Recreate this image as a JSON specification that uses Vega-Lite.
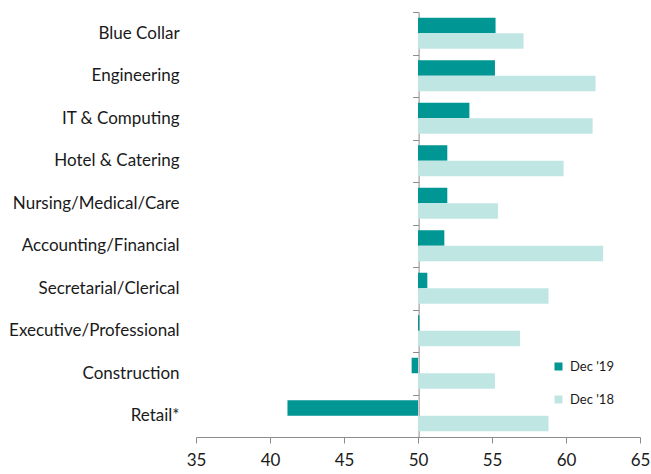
{
  "$schema": "https://vega.github.io/schema/vega-lite/v6.json",
  "autosize": "none",
  "width": 444,
  "height": 425,
  "padding": {"left": 196, "top": 12, "right": 11, "bottom": 37},
  "config": {"view": {"stroke": null}, "font": "Lato"},
  "data": {"values": [
    {"category": "Blue Collar", "series": "Dec '19", "value": 55.24},
    {"category": "Blue Collar", "series": "Dec '18", "value": 57.13},
    {"category": "Engineering", "series": "Dec '19", "value": 55.2},
    {"category": "Engineering", "series": "Dec '18", "value": 62.0},
    {"category": "IT & Computing", "series": "Dec '19", "value": 53.47},
    {"category": "IT & Computing", "series": "Dec '18", "value": 61.8},
    {"category": "Hotel & Catering", "series": "Dec '19", "value": 51.98},
    {"category": "Hotel & Catering", "series": "Dec '18", "value": 59.84},
    {"category": "Nursing/Medical/Care", "series": "Dec '19", "value": 51.98},
    {"category": "Nursing/Medical/Care", "series": "Dec '18", "value": 55.4},
    {"category": "Accounting/Financial", "series": "Dec '19", "value": 51.78},
    {"category": "Accounting/Financial", "series": "Dec '18", "value": 62.51},
    {"category": "Secretarial/Clerical", "series": "Dec '19", "value": 50.63},
    {"category": "Secretarial/Clerical", "series": "Dec '18", "value": 58.82},
    {"category": "Executive/Professional", "series": "Dec '19", "value": 50.09},
    {"category": "Executive/Professional", "series": "Dec '18", "value": 56.89},
    {"category": "Construction", "series": "Dec '19", "value": 49.57},
    {"category": "Construction", "series": "Dec '18", "value": 55.2},
    {"category": "Retail*", "series": "Dec '19", "value": 41.18},
    {"category": "Retail*", "series": "Dec '18", "value": 58.82}
  ]},
  "mark": {"type": "bar"},
  "encoding": {
    "y": {
      "field": "category", "type": "nominal", "sort": null,
      "scale": {"paddingInner": 0, "paddingOuter": 0},
      "axis": {
        "title": null, "offset": -222.6, "tickBand": "extent",
        "domainColor": "#8c8c8c", "tickColor": "#8c8c8c", "tickSize": 6,
        "labelPadding": 233.5, "labelFontSize": 17, "labelColor": "#1a1a1a",
        "labelLimit": 300
      }
    },
    "yOffset": {
      "field": "series", "type": "nominal",
      "sort": ["Dec '19", "Dec '18"],
      "scale": {"paddingInner": 0, "paddingOuter": 0.371}
    },
    "x": {
      "field": "value", "type": "quantitative",
      "scale": {"domain": [35, 65], "nice": false, "zero": false},
      "axis": {
        "title": null, "values": [35, 40, 45, 50, 55, 60, 65], "grid": false,
        "labelFlush": false, "labelOverlap": false,
        "domainColor": "#8c8c8c", "tickColor": "#8c8c8c", "tickSize": 6,
        "labelFontSize": 17, "labelColor": "#1a1a1a", "labelPadding": 9
      }
    },
    "x2": {"datum": 50},
    "color": {
      "field": "series", "type": "nominal",
      "scale": {"domain": ["Dec '19", "Dec '18"], "range": ["#009694", "#c0e6e4"]},
      "legend": {
        "title": null, "orient": "none", "legendX": 356, "legendY": 348,
        "symbolType": "square", "symbolSize": 64, "symbolStrokeWidth": 0,
        "labelFontSize": 13, "labelColor": "#1a1a1a", "rowPadding": 19,
        "symbolOffset": 0, "labelOffset": 5
      }
    }
  }
}
